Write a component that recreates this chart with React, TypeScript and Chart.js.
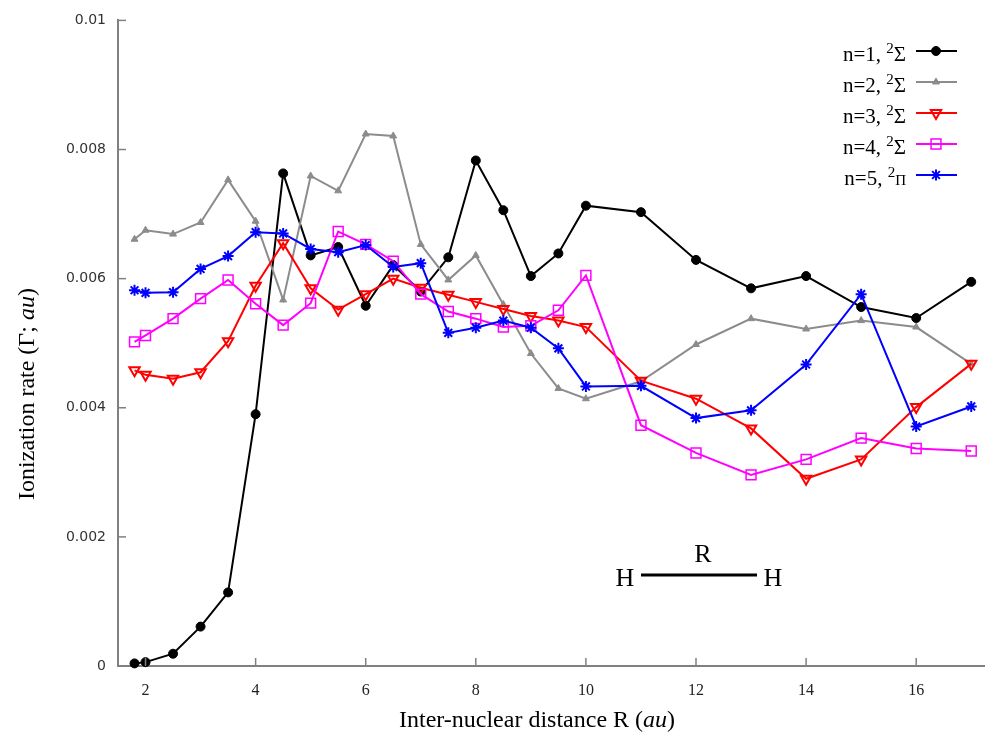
import React, { useEffect, useRef } from "react";
import { Chart, registerables } from "chart.js";
import { drawPoint } from "chart.js/helpers";

Chart.register(...registerables);

const R = [1.8, 2, 2.5, 3, 3.5, 4, 4.5, 5, 5.5, 6, 6.5, 7, 7.5, 8, 8.5, 9, 9.5, 10, 11, 12, 13, 14, 15, 16, 17];

const N1 = [0.00004, 0.00006, 0.00019, 0.00061, 0.00114, 0.0039, 0.00763, 0.00636, 0.00649, 0.00558, 0.00621, 0.0058, 0.00633, 0.00783, 0.00706, 0.00604, 0.00639, 0.00713, 0.00703, 0.00629, 0.00585, 0.00604, 0.00556, 0.00539, 0.00595];
const N2 = [0.00661, 0.00675, 0.00669, 0.00687, 0.00753, 0.00689, 0.00567, 0.00759, 0.00736, 0.00824, 0.00821, 0.00653, 0.00598, 0.00636, 0.0056, 0.00484, 0.0043, 0.00414, 0.00441, 0.00498, 0.00538, 0.00522, 0.00535, 0.00525, 0.00468];
const N3 = [0.00458, 0.00451, 0.00445, 0.00455, 0.00503, 0.00589, 0.00655, 0.00585, 0.00552, 0.00576, 0.006, 0.00586, 0.00575, 0.00564, 0.00553, 0.00542, 0.00535, 0.00525, 0.00442, 0.00414, 0.00368, 0.0029, 0.0032, 0.00401, 0.00468];
const N4 = [0.00502, 0.00512, 0.00538, 0.00569, 0.00598, 0.00561, 0.00528, 0.00562, 0.00673, 0.00653, 0.00627, 0.00576, 0.00549, 0.00538, 0.00525, 0.00527, 0.00551, 0.00605, 0.00373, 0.0033, 0.00296, 0.0032, 0.00353, 0.00337, 0.00333];
const N5 = [0.00582, 0.00578, 0.00579, 0.00615, 0.00635, 0.00672, 0.0067, 0.00646, 0.00641, 0.00652, 0.00618, 0.00624, 0.00516, 0.00524, 0.00535, 0.00524, 0.00492, 0.00433, 0.00434, 0.00384, 0.00396, 0.00467, 0.00576, 0.00371, 0.00402];

const XTICKS = [2, 4, 6, 8, 10, 12, 14, 16];
const YTICKS = [0, 0.002, 0.004, 0.006, 0.008, 0.01];
const YLABELS = ["0", "0.002", "0.004", "0.006", "0.008", "0.01"];

const LEGEND_N = ["n=1, ", "n=2, ", "n=3, ", "n=4, ", "n=5, "];
const LEGEND_SYM = ["Σ", "Σ", "Σ", "Σ", "Π"];

const X_TITLE = "Inter-nuclear distance R (";
const Y_TITLE = "Ionization rate (Γ; ";
const UNIT = "au";

const SERIF = "'Liberation Serif', 'Times New Roman', serif";

const STYLES = [
  { color: "#000000", fill: "#000000", pointStyle: "circle", radius: 4.5, bw: 1, rot: 0 },
  { color: "#8c8c8c", fill: "#8c8c8c", pointStyle: "triangle", radius: 4, bw: 1, rot: 0 },
  { color: "#ff0000", fill: "rgba(255,255,255,0)", pointStyle: "triangle", radius: 6, bw: 2, rot: 180 },
  { color: "#ff00ff", fill: "rgba(255,255,255,0)", pointStyle: "rect", radius: 7, bw: 1.5, rot: 0 },
  { color: "#0000ff", fill: "#0000ff", pointStyle: "star", radius: 5.5, bw: 2, rot: 0 },
];

const SERIES = [N1, N2, N3, N4, N5];

const decorPlugin = {
  id: "decor",
  afterDraw(chart: any) {
    const ctx = chart.ctx;
    const xs = chart.scales.x;
    const ys = chart.scales.y;
    const area = chart.chartArea;
    ctx.save();
    ctx.strokeStyle = "#808080";
    ctx.lineWidth = 1.5;
    XTICKS.forEach((v) => {
      const px = xs.getPixelForValue(v);
      ctx.beginPath();
      ctx.moveTo(px, area.bottom);
      ctx.lineTo(px, area.bottom - 8);
      ctx.stroke();
    });
    YTICKS.forEach((v) => {
      if (v === 0) return;
      const py = ys.getPixelForValue(v);
      ctx.beginPath();
      ctx.moveTo(area.left, py);
      ctx.lineTo(area.left + 8, py);
      ctx.stroke();
    });

    ctx.fillStyle = "#000";
    ctx.textBaseline = "alphabetic";
    const normal = `24px ${SERIF}`;
    const italic = `italic 24px ${SERIF}`;
    ctx.font = normal;
    const w1 = ctx.measureText(X_TITLE).width;
    const w3 = ctx.measureText(")").width;
    ctx.font = italic;
    const w2 = ctx.measureText(UNIT).width;
    const sx = 537 - (w1 + w2 + w3) / 2;
    const by = 727;
    ctx.textAlign = "left";
    ctx.font = normal;
    ctx.fillText(X_TITLE, sx, by);
    ctx.font = italic;
    ctx.fillText(UNIT, sx + w1, by);
    ctx.font = normal;
    ctx.fillText(")", sx + w1 + w2, by);

    ctx.save();
    ctx.translate(34, 394);
    ctx.rotate(-Math.PI / 2);
    ctx.font = normal;
    const v1 = ctx.measureText(Y_TITLE).width;
    const v3 = ctx.measureText(")").width;
    ctx.font = italic;
    const v2 = ctx.measureText(UNIT).width;
    const sy = -(v1 + v2 + v3) / 2;
    ctx.font = normal;
    ctx.fillText(Y_TITLE, sy, 0);
    ctx.font = italic;
    ctx.fillText(UNIT, sy + v1, 0);
    ctx.font = normal;
    ctx.fillText(")", sy + v1 + v2, 0);
    ctx.restore();

    for (let i = 0; i < 5; i++) {
      const rowY = 51 + i * 31;
      const st = STYLES[i];
      const base = rowY + 10;
      const right = 906;
      const symFont = i === 4 ? `15px ${SERIF}` : `21px ${SERIF}`;
      ctx.font = symFont;
      const sw = ctx.measureText(LEGEND_SYM[i]).width;
      ctx.font = `15px ${SERIF}`;
      const supW = ctx.measureText("2").width;
      ctx.font = `21px ${SERIF}`;
      const nw = ctx.measureText(LEGEND_N[i]).width;
      const start = right - sw - supW - nw;
      ctx.fillStyle = "#000";
      ctx.textAlign = "left";
      ctx.font = `21px ${SERIF}`;
      ctx.fillText(LEGEND_N[i], start, base);
      ctx.font = `15px ${SERIF}`;
      ctx.fillText("2", start + nw, base - 8);
      ctx.font = symFont;
      ctx.fillText(LEGEND_SYM[i], start + nw + supW, base);
      ctx.strokeStyle = st.color;
      ctx.lineWidth = 2;
      ctx.beginPath();
      ctx.moveTo(916, rowY);
      ctx.lineTo(957, rowY);
      ctx.stroke();
      ctx.fillStyle = st.fill;
      ctx.strokeStyle = st.color;
      ctx.lineWidth = st.bw;
      drawPoint(ctx, { pointStyle: st.pointStyle, radius: st.radius, rotation: st.rot, borderWidth: st.bw } as any, 936, rowY);
    }

    ctx.fillStyle = "#000";
    ctx.font = `26px ${SERIF}`;
    ctx.textAlign = "center";
    ctx.fillText("H", 625, 586);
    ctx.fillText("H", 773, 586);
    ctx.fillText("R", 703, 562);
    ctx.strokeStyle = "#000";
    ctx.lineWidth = 3;
    ctx.beginPath();
    ctx.moveTo(641, 575);
    ctx.lineTo(757, 575);
    ctx.stroke();
    ctx.restore();
  },
};

export default function App() {
  const ref = useRef<HTMLCanvasElement | null>(null);
  useEffect(() => {
    if (!ref.current) return;
    const datasets = SERIES.map((s, i) => {
      const st = STYLES[i];
      return {
        label: LEGEND_N[i] + "2" + LEGEND_SYM[i],
        data: R.map((x, j) => ({ x, y: s[j] })),
        borderColor: st.color,
        backgroundColor: st.fill,
        borderWidth: 2,
        pointStyle: st.pointStyle,
        pointRadius: st.radius,
        pointBorderWidth: st.bw,
        pointRotation: st.rot,
        pointBackgroundColor: st.fill,
        pointBorderColor: st.color,
        tension: 0,
        order: 5 - i,
        clip: false,
      };
    });
    const chart = new Chart(ref.current, {
      type: "line",
      data: { datasets } as any,
      options: {
        animation: false,
        responsive: false,
        devicePixelRatio: 1,
        layout: { autoPadding: false, padding: { top: 17, right: 0, left: 0, bottom: 0 } },
        plugins: { legend: { display: false }, tooltip: { enabled: false } },
        scales: {
          x: {
            type: "linear",
            min: 1.5,
            max: 17.25,
            afterBuildTicks: (s: any) => {
              s.ticks = XTICKS.map((v) => ({ value: v }));
            },
            afterFit: (s: any) => {
              s.height = 67;
              s.paddingRight = 0;
              s.paddingLeft = 0;
            },
            ticks: {
              autoSkip: false,
              maxRotation: 0,
              padding: 15,
              color: "#222",
              font: { family: SERIF, size: 16 },
              callback: (v: any) => String(v),
            },
            grid: { display: false, drawTicks: false },
            border: { display: true, color: "#808080", width: 2 },
          },
          y: {
            type: "linear",
            min: 0,
            max: 0.01,
            afterBuildTicks: (s: any) => {
              s.ticks = YTICKS.map((v) => ({ value: v }));
            },
            afterFit: (s: any) => {
              s.width = 118;
            },
            ticks: {
              padding: 12,
              color: "#333",
              font: { family: "'DejaVu Sans', sans-serif", size: 14 },
              callback: (v: any) => {
                const idx = YTICKS.findIndex((t) => Math.abs(t - v) < 1e-9);
                return idx >= 0 ? YLABELS[idx] : "";
              },
            },
            grid: { display: false, drawTicks: false },
            border: { display: true, color: "#808080", width: 2 },
          },
        },
      } as any,
      plugins: [decorPlugin],
    });
    return () => chart.destroy();
  }, []);
  return (
    <div style={{ position: "absolute", left: 0, top: 0, width: 985, height: 733, background: "#fff" }}>
      <canvas ref={ref} width={985} height={733} style={{ width: 985, height: 733, display: "block" }} />
    </div>
  );
}
